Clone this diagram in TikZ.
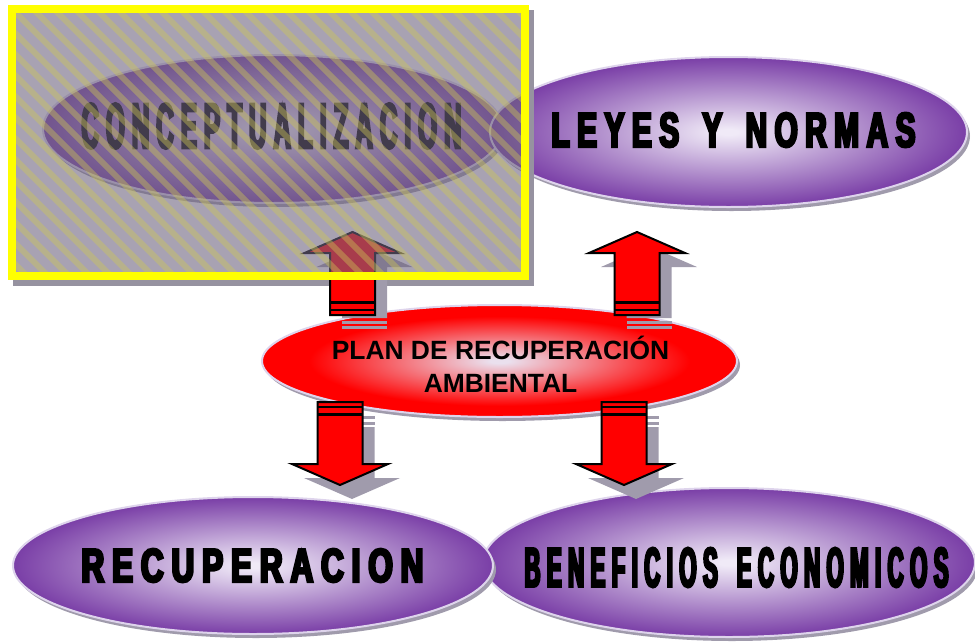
\documentclass[tikz,border=0pt]{standalone}
\usepackage{fontspec}
\usepackage{graphicx}
\setmainfont{Liberation Sans}
\newfontfamily\condfont{Liberation Sans}[FakeStretch=0.41]
\newfontfamily\semifont{Liberation Sans}[FakeStretch=0.6]
\usetikzlibrary{shapes.geometric,shadows,calc}

\definecolor{ppurple}{RGB}{112,48,160}
\definecolor{plight}{RGB}{240,234,247}
\definecolor{rlight}{RGB}{234,224,238}
\definecolor{pred}{RGB}{255,0,0}
\definecolor{elledge}{RGB}{222,212,236}
\definecolor{ellshadow}{RGB}{160,155,172}
\definecolor{arrshadowc}{RGB}{160,155,172}
\definecolor{hiyellow}{RGB}{255,255,0}
\definecolor{ovgray}{RGB}{110,100,127}
\definecolor{stripec}{RGB}{205,198,85}
\definecolor{frameshadow}{RGB}{150,146,160}

\pgfdeclareradialshading{purpglow}{\pgfpoint{0bp}{0bp}}{color(0bp)=(plight); color(1bp)=(plight); color(27bp)=(ppurple); color(50bp)=(ppurple)}
\pgfdeclareradialshading{redglow}{\pgfpoint{0bp}{0bp}}{color(0bp)=(rlight); color(1bp)=(rlight); color(20bp)=(pred); color(50bp)=(pred)}

\newlength\spreadgap
\newcommand\spread[1]{\spreadA#1\relax}
\def\spreadA#1{#1\spreadB}
\def\spreadB#1{\ifx#1\relax\else\kern\spreadgap#1\expandafter\spreadB\fi}
% #1 size, #2 family, #3 letter gap
\newcommand\lblfont[3]{\fontsize{#1}{#1}#2\bfseries\setlength\spreadgap{#3}}
% heavy black letters: glyphs filled and stroked in black
\newcommand\heavy[1]{\special{pdf:literal 2 Tr 0 0 0 RG 2.4 w}#1\special{pdf:literal 0 Tr}}
% #1 name, #2 position, #3 width, #4 height, #5 text, #6 font size, #7 family, #8 gap
\newcommand\biglabel[8]{%
  \node[lbl] (#1-txt) at #2 {\resizebox{#3pt}{#4pt}{\lblfont{#6}{#7}{#8}\heavy{\spread{#5}}}};
}

\tikzset{
  pellipse/.style={ellipse, draw=elledge, line width=2pt, shade, shading=purpglow,
    drop shadow={shadow xshift=3pt, shadow yshift=-4pt, fill=ellshadow, opacity=1}},
  rellipse/.style={ellipse, draw=elledge, line width=2pt, shade, shading=redglow,
    drop shadow={shadow xshift=3pt, shadow yshift=-4pt, fill=ellshadow, opacity=1}},
  lbl/.style={inner sep=0pt, text=black},
  plantxt/.style={inner sep=0pt, align=center, font=\fontsize{26.4}{33}\selectfont\bfseries},
  arrowbody/.style={fill=pred, draw=black, line width=2pt, line join=miter},
  stripe/.style={draw=stripec, line width=6pt, draw opacity=0.42},
  hilite/.style={rectangle, draw=hiyellow, line width=8pt, fill=ovgray, fill opacity=0.6, inner sep=0pt,
    path picture={\foreach \k in {-14,...,26}{\draw[stripe] ([xshift={\k*21pt}]path picture bounding box.north west) -- ++(300,300);}}},
  arrbody/.pic={
    \draw[arrowbody] (0,0) -- (48,21) -- (22.5,21) -- (22.5,83) -- (-22.5,83) -- (-22.5,21) -- (-48,21) -- cycle;
    \draw[line width=2.5pt] (-22.5,70.5) -- (22.5,70.5);
    \draw[line width=2.5pt] (-22.5,78) -- (22.5,78);
  },
  arrshadow/.pic={
    \fill[arrshadowc] (0,0) -- (48,21) -- (22.5,21) -- (22.5,72) -- (-22.5,72) -- (-22.5,21) -- (-48,21) -- cycle;
    \fill[arrshadowc] (-22.5,74.5) rectangle (22.5,77.5);
    \fill[arrshadowc] (-22.5,80) rectangle (22.5,83);
  }
}

\begin{document}
\begin{tikzpicture}[x=1pt,y=-1pt]
\useasboundingbox (0,0) rectangle (975,643);

% ellipses
\node[pellipse, minimum width=460pt, minimum height=148pt] (concept) at (273,129) {};
\node[pellipse, minimum width=477pt, minimum height=150pt] (leyes) at (728.5,132) {};
\node[pellipse, minimum width=492pt, minimum height=149pt] (benef) at (729,562.5) {};
\node[pellipse, minimum width=480pt, minimum height=137pt] (recup) at (253,565.5) {};
\node[rellipse, minimum width=475pt, minimum height=112pt] (plan) at (499.5,361) {};

% labels
\biglabel{concept}{(271.5,126)}{380}{45}{CONCEPTUALIZACION}{63}{\condfont}{0.12em}
\biglabel{leyes}{(733.5,130)}{364}{34}{LEYES~Y~NORMAS}{47.5}{\semifont}{0.15em}
\biglabel{recup}{(252.5,565.5)}{342}{33}{RECUPERACION}{46}{\semifont}{0.15em}
\biglabel{benef}{(736.5,567.5)}{424}{39}{BENEFICIOS~ECONOMICOS}{54.5}{\condfont}{0.12em}
\node[plantxt] (plan-txt) at (500.5,364.5) {PLAN DE RECUPERACIÓN\\AMBIENTAL};

% shadow of the highlight frame
\fill[frameshadow] (529,10) rectangle (534,286);
\fill[frameshadow] (13,280) rectangle (534,286);

% block arrows
\pic (up-l-sh) at (364.5,246) {arrshadow};
\pic (up-r-sh) at (649,246) {arrshadow};
\pic[rotate=180] (dn-l-sh) at (352,499) {arrshadow};
\pic[rotate=180] (dn-r-sh) at (636,499) {arrshadow};
\pic (up-l) at (352.5,232) {arrbody};
\pic (up-r) at (637,232) {arrbody};
\pic[rotate=180] (dn-l) at (340,485) {arrbody};
\pic[rotate=180] (dn-r) at (624,485) {arrbody};

% highlight frame over the top left
\node[hilite, minimum width=513pt, minimum height=267pt] (focus) at (268.5,142.5) {};
\end{tikzpicture}
\end{document}
